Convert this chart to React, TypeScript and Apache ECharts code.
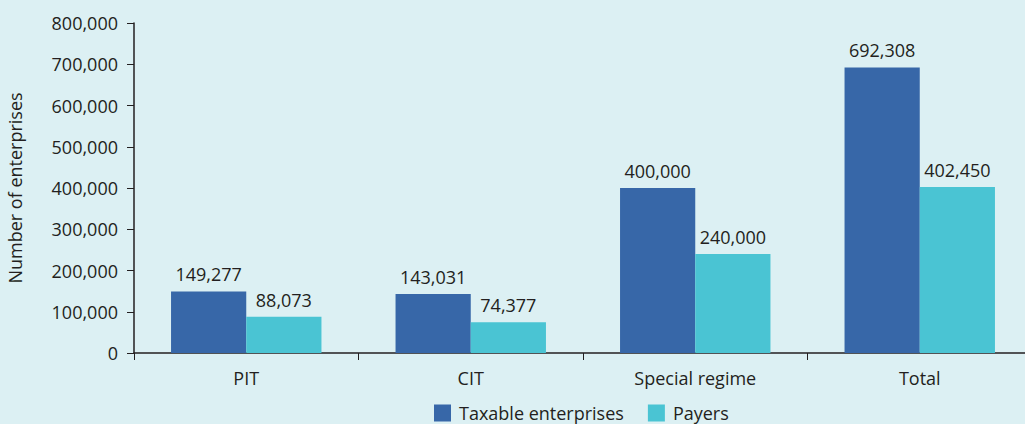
import React, { useEffect, useRef } from "react";
import * as echarts from "echarts";

const categories = ["PIT", "CIT", "Special regime", "Total"];
const taxable = [149277, 143031, 400000, 692308];
const payers = [88073, 74377, 240000, 402450];
const seriesNames = ["Taxable enterprises", "Payers"];

const FONT = "'Open Sans', sans-serif";
const TXT = "#231F20";
const FS = 18;

export default function App() {
  const ref = useRef<HTMLDivElement>(null);
  useEffect(() => {
    document.body.style.margin = "0";
    const chart = echarts.init(ref.current!, null, { renderer: "svg" });
    const label = {
      show: true,
      position: "top",
      distance: 8,
      color: TXT,
      fontFamily: FONT,
      fontSize: FS,
      formatter: (p: any) => Number(p.value).toLocaleString("en-US"),
    };
    chart.setOption({
      animation: false,
      backgroundColor: "#DCF0F3",
      textStyle: { fontFamily: FONT },
      grid: { left: 134, right: -7, top: 23, bottom: 71, outerBoundsMode: "none", containLabel: false },
      legend: {
        data: seriesNames,
        left: 434,
        top: 403,
        itemWidth: 17,
        itemHeight: 17,
        itemGap: 24,
        icon: "rect",
        padding: 0,
        textStyle: { color: TXT, fontFamily: FONT, fontSize: FS, lineHeight: 20, padding: [0, 0, 0, 3] },
      },
      xAxis: {
        type: "category",
        data: categories,
        axisLine: { lineStyle: { color: "#231F20", width: 1.5 } },
        axisTick: { show: true, length: 7, inside: false, lineStyle: { color: "#231F20" } },
        axisLabel: { color: TXT, fontFamily: FONT, fontSize: FS, margin: 16 },
      },
      yAxis: {
        type: "value",
        min: 0,
        max: 800000,
        interval: 100000,
        name: "Number of enterprises",
        nameLocation: "middle",
        nameGap: 110,
        nameRotate: 90,
        nameTextStyle: { color: TXT, fontFamily: FONT, fontSize: FS },
        axisLine: { show: true, lineStyle: { color: "#231F20", width: 1.5 } },
        axisTick: { show: true, length: 7, lineStyle: { color: "#231F20" } },
        splitLine: { show: false },
        axisLabel: {
          color: TXT,
          fontFamily: FONT,
          fontSize: FS,
          margin: 16,
          formatter: (v: number) => v.toLocaleString("en-US"),
        },
      },
      series: [
        {
          name: seriesNames[0],
          type: "bar",
          data: taxable,
          itemStyle: { color: "#3767A8" },
          barGap: "0%",
          barCategoryGap: "33%",
          label,
        },
        {
          name: seriesNames[1],
          type: "bar",
          data: payers,
          itemStyle: { color: "#4AC4D3" },
          label,
        },
      ],
    });
    return () => chart.dispose();
  }, []);
  return <div ref={ref} style={{ width: 1025, height: 424 }} />;
}
